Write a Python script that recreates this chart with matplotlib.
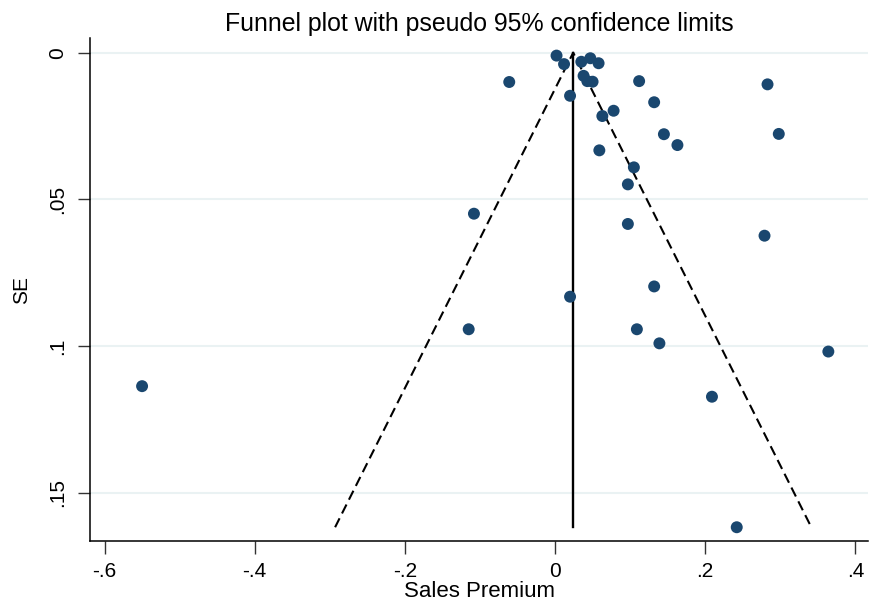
import matplotlib.pyplot as plt

plt.rcParams['font.family'] = ['Liberation Sans', 'DejaVu Sans']

# study estimates (Sales Premium) and their standard errors
effect = [0.002, 0.012, 0.035, 0.047, 0.058, 0.038, 0.043, 0.050, -0.061, 0.020,
          0.112, 0.283, 0.132, 0.078, 0.063, 0.145, 0.298, 0.163, 0.059, 0.105,
          0.097, -0.108, 0.097, 0.279, 0.132, 0.020, -0.115, 0.109, 0.139, 0.364,
          -0.550, 0.209, 0.242]
se = [0.0010, 0.0039, 0.0031, 0.0019, 0.0036, 0.0079, 0.0097, 0.0099, 0.0100, 0.0147,
      0.0097, 0.0108, 0.0169, 0.0198, 0.0216, 0.0278, 0.0277, 0.0315, 0.0333, 0.0391,
      0.0449, 0.0549, 0.0584, 0.0624, 0.0797, 0.0832, 0.0943, 0.0943, 0.0991, 0.1019,
      0.1137, 0.1173, 0.1618]

pooled = 0.0242
se_max = max(se)

xticks = [-0.6, -0.4, -0.2, 0, 0.2, 0.4]
xtick_labels = ['-.6', '-.4', '-.2', '0', '.2', '.4']
yticks = [0, 0.05, 0.1, 0.15]
ytick_labels = ['0', '.05', '.1', '.15']

fig = plt.figure(figsize=(8.73, 6.06), dpi=100)
ax = fig.add_axes([0.1034, 0.1077, 0.8906, 0.8291])

for t in yticks:
    ax.axhline(t, color='#eaf2f3', lw=1.5, zorder=0)

# pseudo 95% confidence limits
ax.plot([pooled - 1.96 * se_max, pooled, pooled + 1.96 * se_max], [se_max, 0, se_max],
        color='black', ls=(0, (4.8, 2.6)), lw=1.5, zorder=2)
ax.plot([pooled, pooled], [0, se_max], color='black', lw=1.7, zorder=2)

ax.scatter(effect, se, s=74, color='#1a476f', edgecolors='none', zorder=3)

ax.set_xlim(-0.619, 0.4165)
ax.set_ylim(0.1664, -0.0049)

ax.set_xticks(xticks)
ax.set_xticklabels(xtick_labels)
ax.set_yticks(yticks)
ax.set_yticklabels(ytick_labels, rotation=90, va='center')
ax.tick_params(axis='both', labelsize=15, length=9, width=1, color='#333333')
ax.tick_params(axis='x', pad=6)
ax.tick_params(axis='y', pad=8)

for side in ['top', 'right']:
    ax.spines[side].set_visible(False)
for side in ['left', 'bottom']:
    ax.spines[side].set_linewidth(1.1)

ax.set_title("Funnel plot with pseudo 95% confidence limits", fontsize=17.9, pad=5)
ax.set_xlabel("Sales Premium", fontsize=16, labelpad=0)
ax.set_ylabel("SE", fontsize=15, labelpad=12)

plt.savefig('out.png', dpi=100)
